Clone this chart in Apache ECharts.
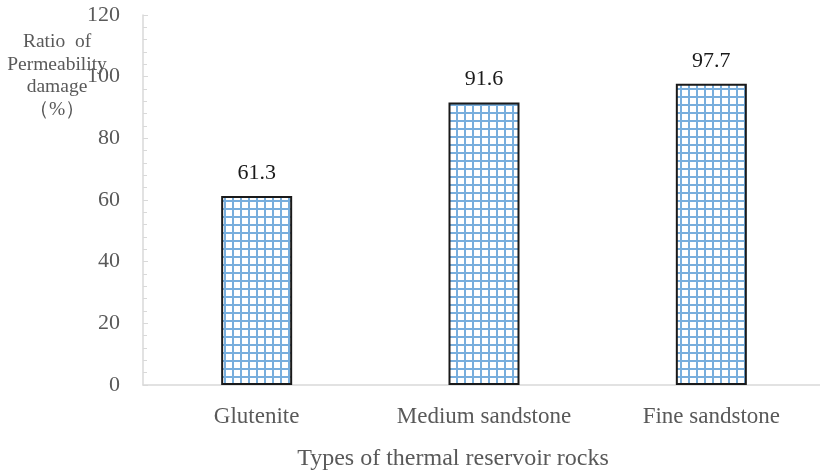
<!DOCTYPE html>
<html>
<head>
<meta charset="utf-8">
<script src="https://cdn.jsdelivr.net/npm/echarts@6/dist/echarts.min.js"></script>
<style>
html,body{margin:0;padding:0;background:#fff;}
#chart{width:820px;height:476px;}
</style>
</head>
<body>
<div id="chart"></div>
<script>
// Rock types and their permeability damage ratios (%)
const categories = ['Glutenite', 'Medium sandstone', 'Fine sandstone'];
const damageRatio = [61.3, 91.6, 97.7];
const yTicks = [0, 20, 40, 60, 80, 100, 120];

// Blue grid fill for the bars
function gridPattern() {
  const c = document.createElement('canvas');
  c.width = 8; c.height = 8;
  const g = c.getContext('2d');
  g.fillStyle = '#ffffff';
  g.fillRect(0, 0, 8, 8);
  g.fillStyle = '#78aedd';
  g.fillRect(0, 0, 8, 2);
  g.fillRect(0, 0, 2, 8);
  return c;
}

const chart = echarts.init(document.getElementById('chart'));
const font = '"Liberation Serif", "Times New Roman", serif';

chart.setOption({
  animation: false,
  grid: { left: 143, top: 15, width: 682, height: 370, containLabel: false, outerBoundsMode: 'none' },
  graphic: [{
    type: 'text',
    z: 10,
    style: {
      x: 57,
      y: 31,
      text: 'Ratio  of\nPermeability\ndamage\n（%）',
      font: '19.5px ' + font,
      fill: '#595959',
      align: 'center',
      verticalAlign: 'top',
      lineHeight: 22.5
    }
  }],
  xAxis: {
    type: 'category',
    data: categories,
    name: 'Types of thermal reservoir rocks',
    nameLocation: 'middle',
    nameGap: 62,
    nameTextStyle: { fontFamily: font, fontSize: 24, color: '#595959', padding: [0, 62, 0, 0] },
    axisLine: { lineStyle: { color: '#d9d9d9', width: 1.5 } },
    axisTick: { show: false },
    axisLabel: { fontFamily: font, fontSize: 23, color: '#595959', margin: 20 }
  },
  yAxis: {
    type: 'value',
    min: yTicks[0],
    max: yTicks[yTicks.length - 1],
    interval: 20,
    splitLine: { show: false },
    axisLine: { show: true, lineStyle: { color: '#d9d9d9', width: 1.5 } },
    axisTick: { show: true, inside: true, length: 5, lineStyle: { color: '#d9d9d9' } },
    minorTick: { show: true, splitNumber: 5, length: 4, lineStyle: { color: '#d9d9d9' } },
    axisLabel: { fontFamily: font, fontSize: 22, color: '#595959', margin: 23 }
  },
  series: [{
    type: 'bar',
    data: damageRatio,
    barWidth: 71,
    itemStyle: {
      color: { image: gridPattern(), repeat: 'repeat' },
      borderColor: '#1a1a1a',
      borderWidth: 2
    },
    label: {
      show: true,
      position: 'top',
      distance: 12,
      fontFamily: font,
      fontSize: 22,
      color: '#1a1a1a'
    }
  }]
});
</script>
</body>
</html>
